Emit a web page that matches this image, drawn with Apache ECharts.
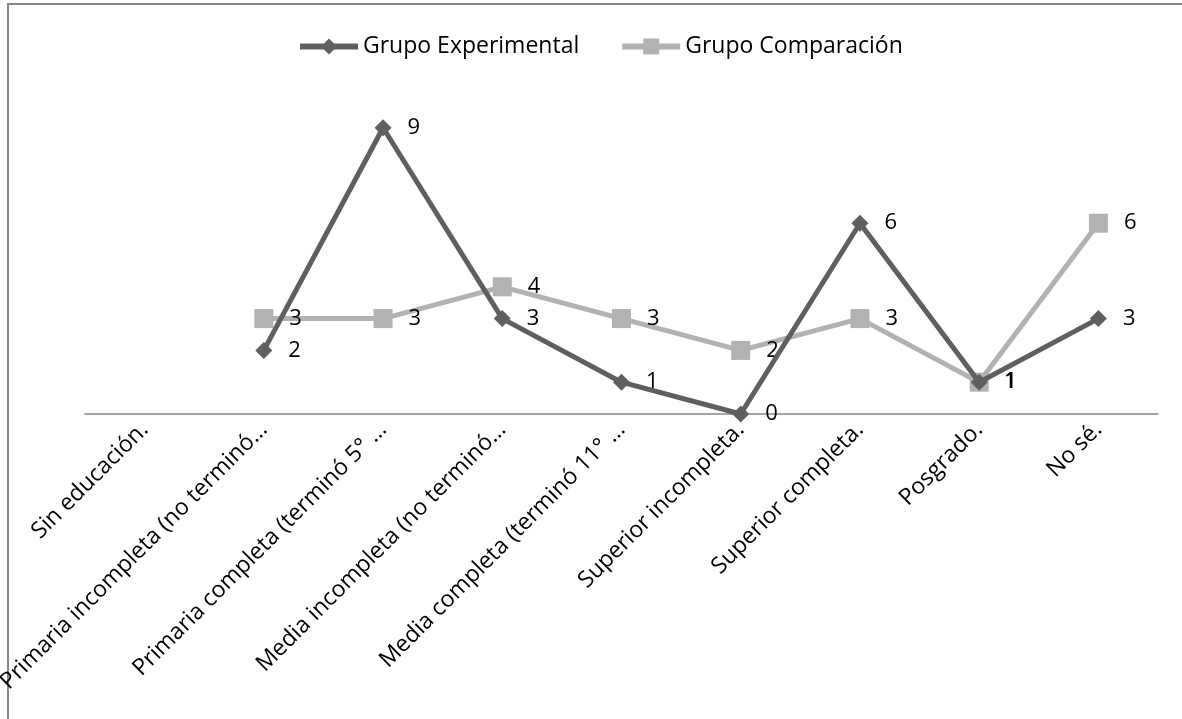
<!DOCTYPE html>
<html>
<head>
<meta charset="utf-8">
<script src="https://cdn.jsdelivr.net/npm/echarts@6/dist/echarts.min.js"></script>
<style>html,body{margin:0;padding:0;background:#fff}#c{width:1182px;height:719px}</style>
</head>
<body>
<div id="c"></div>
<script>
const categories = ["Sin educación.", "Primaria incompleta (no terminó…", "Primaria completa (terminó 5° …", "Media incompleta (no terminó…", "Media completa (terminó 11° …", "Superior incompleta.", "Superior completa.", "Posgrado.", "No sé."];
const grupoExperimental = [null, 2, 9, 3, 1, 0, 6, 1, 3];
const grupoComparacion = [null, 3, 3, 4, 3, 2, 3, 1, 6];
const seriesNames = ["Grupo Experimental", "Grupo Comparación"];

const FONT = "Open Sans";
const chart = echarts.init(document.getElementById('c'));
const labelStyle = {show: true, position: 'right', distance: 16, color: '#000', fontFamily: FONT, fontSize: 22};
chart.setOption({
  animation: false,
  graphic: [{type: 'rect', shape: {x: 8, y: 4, width: 1200, height: 800}, style: {fill: 'none', stroke: '#868686', lineWidth: 2}, silent: true}],
  legend: {
    top: 30, left: 292, itemWidth: 58, itemHeight: 20, itemGap: 40,
    lineStyle: {width: 6},
    textStyle: {fontFamily: FONT, fontSize: 23, color: '#000'},
    data: seriesNames
  },
  grid: {left: 85, right: 24, top: 96, bottom: 305, containLabel: false, outerBoundsMode: 'none'},
  xAxis: {
    type: 'category', data: categories, boundaryGap: true,
    axisLine: {lineStyle: {color: '#868686', width: 1.5}},
    axisTick: {show: false},
    axisLabel: {rotate: 45, interval: 0, fontFamily: FONT, fontSize: 23, color: '#000', margin: 12}
  },
  yAxis: {type: 'value', min: 0, max: 10, interval: 1, show: false, splitLine: {show: false}},
  series: [
    {name: seriesNames[0], type: 'line', data: grupoExperimental, symbol: 'diamond', symbolSize: 17,
     lineStyle: {color: '#5f5f5f', width: 5}, itemStyle: {color: '#5f5f5f'}, label: labelStyle, z: 3},
    {name: seriesNames[1], type: 'line', data: grupoComparacion, symbol: 'rect', symbolSize: 19,
     lineStyle: {color: '#b2b2b2', width: 5}, itemStyle: {color: '#b2b2b2'}, label: labelStyle, z: 2}
  ]
});
</script>
</body>
</html>
